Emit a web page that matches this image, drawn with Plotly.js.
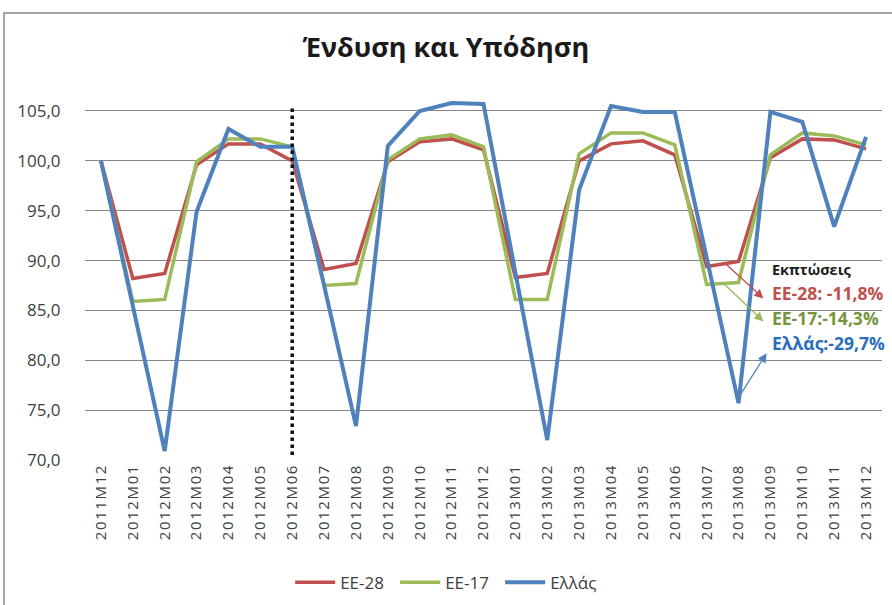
<!DOCTYPE html>
<html>
<head>
<meta charset="utf-8">
<script src="https://cdn.plot.ly/plotly-3.0.1.min.js"></script>
<style>
  html, body { margin: 0; padding: 0; background: #fff; }
  #chart { width: 892px; height: 605px; }
  #chart .xtick text { letter-spacing: 1.6px; }
</style>
</head>
<body>
<div id="chart"></div>
<script>
// Ένδυση και Υπόδηση: monthly index, EU-28 / EU-17 / Greece
const months = [
  '2011M12', '2012M01', '2012M02', '2012M03', '2012M04', '2012M05', '2012M06',
  '2012M07', '2012M08', '2012M09', '2012M10', '2012M11', '2012M12',
  '2013M01', '2013M02', '2013M03', '2013M04', '2013M05', '2013M06',
  '2013M07', '2013M08', '2013M09', '2013M10', '2013M11', '2013M12',
];
const eu28 = [
  100.0, 88.2, 88.7, 99.6, 101.7, 101.7, 100.0,
  89.1, 89.7, 99.9, 101.9, 102.2, 101.1,
  88.3, 88.7, 100.0, 101.7, 102.0, 100.6,
  89.4, 89.9, 100.3, 102.2, 102.1, 101.2,
];
const eu17 = [
  100.0, 85.9, 86.1, 99.9, 102.2, 102.2, 101.4,
  87.5, 87.7, 100.1, 102.2, 102.6, 101.4,
  86.1, 86.1, 100.7, 102.8, 102.8, 101.6,
  87.6, 87.8, 100.6, 102.8, 102.5, 101.6,
];
const greece = [
  100.0, 85.5, 70.9, 94.9, 103.2, 101.4, 101.4,
  87.5, 73.4, 101.5, 105.0, 105.8, 105.7,
  88.8, 72.0, 97.1, 105.5, 104.9, 104.9,
  90.3, 75.7, 104.9, 103.9, 93.4, 102.4,
];
const yTicks = [70, 75, 80, 85, 90, 95, 100, 105];
const divider = '2012M06';

const C = {
  red: '#c0504d',
  green: '#9bbb59',
  blue: '#4f81bd',
  redText: '#c0504d',
  greenText: '#77933c',
  blueText: '#2a6ebb',
  grid: '#878787',
  text: '#404040',
};
const FONT = 'Open Sans, Noto Sans, sans-serif';

const line = (name, y, color, width) => ({
  x: months, y, name, type: 'scatter', mode: 'lines',
  line: { color, width },
});

const traces = [
  line('ΕΕ-28', eu28, C.red, 3.5),
  line('ΕΕ-17', eu17, C.green, 3.5),
  line('Ελλάς', greece, C.blue, 4),
];

const arrow = (x, y, ax, ay, color) => ({
  x, y, ax, ay, xref: 'x', yref: 'y', axref: 'x', ayref: 'y',
  text: '', showarrow: true, arrowhead: 2, arrowsize: 1.4,
  arrowwidth: 1.3, arrowcolor: color,
});
const label = (text, y, color) => ({
  x: 21.0, y, xref: 'x', yref: 'y', xanchor: 'left', yanchor: 'middle',
  text: `<b>${text}</b>`, showarrow: false,
  font: { family: FONT, size: 17.5, color },
});

const layout = {
  width: 892,
  height: 605,
  paper_bgcolor: '#fff',
  plot_bgcolor: '#fff',
  separators: ',.',
  font: { family: FONT, size: 15, color: C.text },
  margin: { l: 85, r: 10, t: 99, b: 145, autoexpand: false },
  showlegend: true,
  title: {
    text: '<b>Ένδυση και Υπόδηση</b>',
    font: { family: FONT, size: 27, color: '#1a1a1a' },
    x: 0.5, xanchor: 'center', y: 0.922, yanchor: 'middle',
  },
  xaxis: {
    type: 'category',
    range: [-0.5, months.length - 0.5],
    tickangle: -90,
    tickfont: { family: FONT, size: 15, color: C.text },
    showgrid: false,
    showline: false,
    zeroline: false,
    ticks: '',
    fixedrange: true,
  },
  yaxis: {
    range: [70, 106.2],
    tickvals: yTicks,
    tickformat: '.1f',
    tickfont: { family: FONT, size: 17, color: C.text },
    gridcolor: C.grid,
    gridwidth: 1,
    zeroline: false,
    showline: false,
    ticks: 'outside',
    ticklen: 20,
    tickcolor: 'rgba(0,0,0,0)',
    fixedrange: true,
  },
  legend: {
    orientation: 'h',
    x: 0.455, xanchor: 'center',
    y: -0.34, yanchor: 'middle',
    font: { family: FONT, size: 17, color: C.text },
    itemwidth: 40,
    entrywidth: 50,
  },
  shapes: [
    {
      type: 'line', xref: 'x', yref: 'y',
      x0: divider, x1: divider, y0: 70.5, y1: 105.3,
      line: { color: '#111', width: 3.5, dash: 'dot' },
      layer: 'above',
    },
    {
      type: 'rect', xref: 'paper', yref: 'paper',
      x0: -81 / 797, x1: 1.05, y0: -1, y1: (605 - 13 - 145) / 361,
      line: { color: '#888', width: 1.5 },
      fillcolor: 'rgba(0,0,0,0)',
    },
  ],
  annotations: [
    {
      x: 22.3, y: 89.1, xref: 'x', yref: 'y', xanchor: 'center', yanchor: 'middle',
      text: '<b>Εκπτώσεις</b>', showarrow: false,
      font: { family: FONT, size: 14.5, color: '#1a1a1a' },
    },
    label('ΕΕ-28: -11,8%', 86.75, C.redText),
    label('ΕΕ-17:-14,3%', 84.25, C.greenText),
    label('Ελλάς:-29,7%', 81.75, C.blueText),
    arrow(20.78, 86.2, 19.52, 89.9, C.red),
    arrow(20.78, 83.9, 19.47, 87.9, C.green),
    arrow(20.88, 80.7, 20.03, 76.4, C.blue),
  ],
};

Plotly.newPlot('chart', traces, layout, { displayModeBar: false, staticPlot: true });
</script>
</body>
</html>
